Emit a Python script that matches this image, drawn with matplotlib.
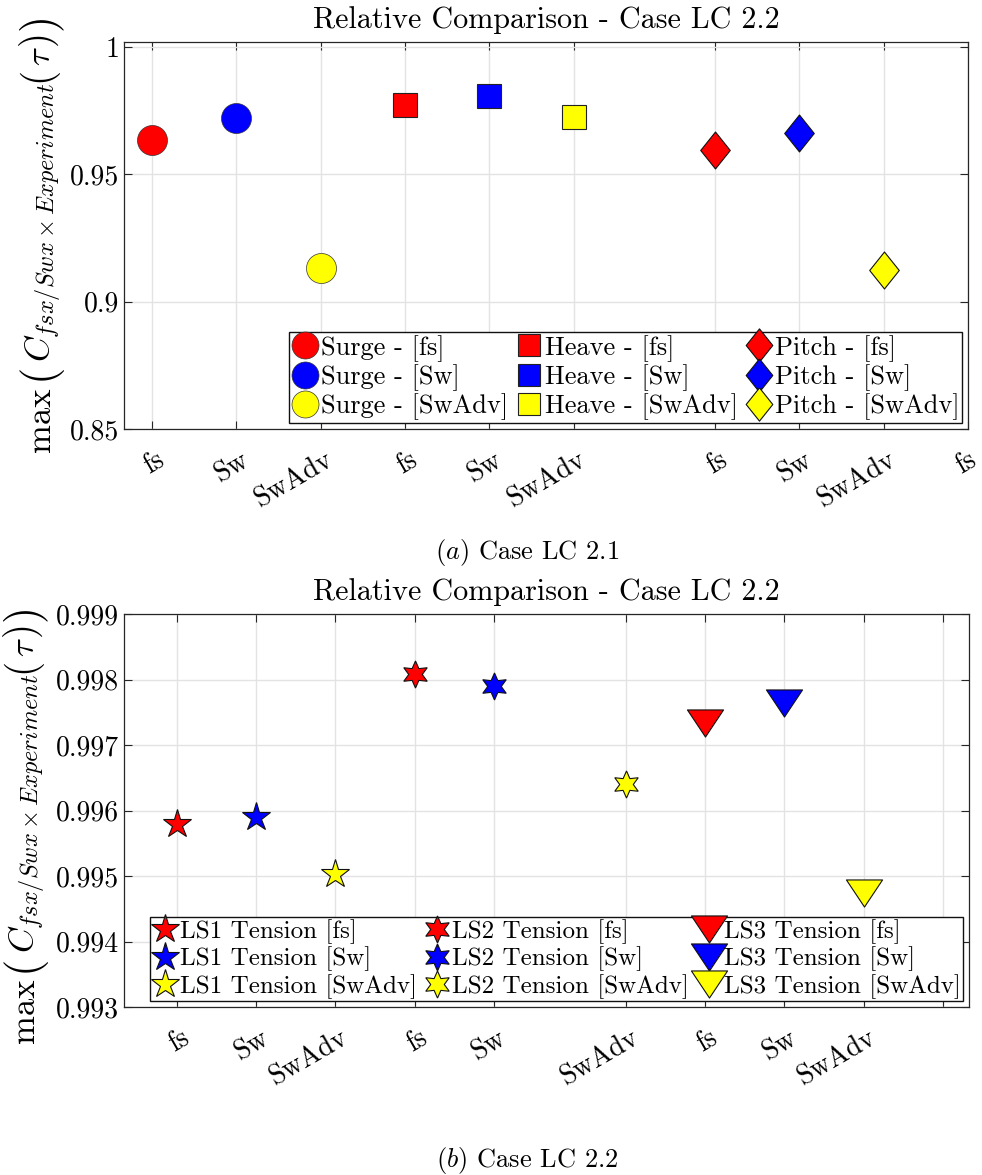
import numpy as np
import matplotlib
matplotlib.use('Agg')
import matplotlib.pyplot as plt
from matplotlib.path import Path
from matplotlib.transforms import IdentityTransform, ScaledTranslation

plt.rcParams['font.family'] = 'serif'
plt.rcParams['font.serif'] = ['cmr10']
plt.rcParams['mathtext.fontset'] = 'cm'
plt.rcParams['axes.unicode_minus'] = False
plt.rcParams['axes.formatter.use_mathtext'] = True

# ---- data: case LC 2.1 (motions) ----
pos_top = [1, 2, 3, 4, 5, 6, 7.67, 8.67, 9.67, 10.67]
labels_top = ['fs', 'Sw', 'SwAdv', 'fs', 'Sw', 'SwAdv', 'fs', 'Sw', 'SwAdv', 'fs']
surge = [0.9636, 0.9722, 0.9133]
heave = [0.9774, 0.9809, 0.9726]
pitch = [0.9594, 0.9662, 0.9123]
x_surge = [1, 2, 3]
x_heave = [4, 5, 6]
x_pitch = [7.67, 8.67, 9.67]

# ---- data: case LC 2.2 (line tensions) ----
pos_bot = [1, 2, 3, 4, 5, 6.67, 7.67, 8.67, 9.67, 10.67]
labels_bot = ['fs', 'Sw', 'SwAdv', 'fs', 'Sw', 'SwAdv', 'fs', 'Sw', 'SwAdv', '']
ls1 = [0.99580, 0.99590, 0.99503]
ls2 = [0.99809, 0.99790, 0.99641]
ls3 = [0.99733, 0.99764, 0.99474]
x_ls1 = [1, 2, 3]
x_ls2 = [4, 5, 6.67]
x_ls3 = [7.67, 8.67, 9.67]

variants = ['fs', 'Sw', 'SwAdv']
colors = ['#ff0000', '#0000ff', '#ffff00']

# marker shapes like MATLAB
diamond = Path([(0, 1), (0.8, 0), (0, -1), (-0.8, 0), (0, 1)],
               [Path.MOVETO, Path.LINETO, Path.LINETO, Path.LINETO, Path.CLOSEPOLY])
tri_down = Path([(-1, 0.75), (1, 0.75), (0, -0.75), (-1, 0.75)],
                [Path.MOVETO, Path.LINETO, Path.LINETO, Path.CLOSEPOLY])
hexagram = (6, 1, 0)

W, H = 982, 1175
fig = plt.figure(figsize=(W / 100, H / 100), dpi=100)


def px_axes(l, t, r, b):
    return fig.add_axes([l / W, 1 - b / H, (r - l) / W, (b - t) / H])


def style(ax):
    ax.grid(True, color='#e3e3e3', linewidth=1.0)
    ax.set_axisbelow(True)
    ax.tick_params(direction='in', top=True, right=True, length=6, width=0.8,
                   labelsize=20, color='#262626')
    for s in ax.spines.values():
        s.set_color('#262626')
        s.set_linewidth(0.9)


def xlabels(ax, pos, labs):
    ax.set_xticks(pos)
    ax.tick_params(axis='x', pad=13)
    ax.set_xticklabels(labs, rotation=30, ha='right', rotation_mode='anchor', fontsize=20)
    tl = ax.get_xticklabels()
    for k, t in enumerate(tl):
        dx = 4 if k < len(tl) - 1 else 0
        t.set_transform(t.get_transform() + ScaledTranslation(dx / 100, 0, fig.dpi_scale_trans))


def stacked_ylabel(x_base, y_top_px, pieces):
    # builds the rotated label piece by piece (big parentheses like the LaTeX original)
    r = fig.canvas.get_renderer()
    y = H - y_top_px
    for s, fs, gap, dx in pieces:
        y += gap
        t = fig.text(x_base + dx, y, s, rotation=90, rotation_mode='anchor', ha='left',
                     va='baseline', fontsize=fs, transform=IdentityTransform())
        bb = t.get_window_extent(r)
        y = bb.y1


ylab_pieces = [('max', 25, 0, 0),
               ('(', 32, 7, 0),
               (r'$C_{fsx/Swx\times Experiment}$', 25, 1, 0),
               ('(', 28, 1, -3),
               (r'$\tau$', 25, 1, 0),
               (')', 28, 1, -3),
               (')', 32, 0, 0)]

# ---------------- top axes ----------------
ax1 = px_axes(124, 42, 968, 429)
style(ax1)
for i in range(3):
    ax1.plot(x_surge[i], surge[i], 'o', ms=21.6, mfc=colors[i], mec='#333333', mew=0.5,
             linestyle='none', label='Surge - [%s]' % variants[i])
for i in range(3):
    ax1.plot(x_heave[i], heave[i], 's', ms=17.3, mfc=colors[i], mec='#222222', mew=0.8,
             linestyle='none', label='Heave - [%s]' % variants[i])
for i in range(3):
    ax1.plot(x_pitch[i], pitch[i], marker=diamond, ms=26.6, mfc=colors[i], mec='#111111',
             mew=0.8, linestyle='none', label='Pitch - [%s]' % variants[i])
ax1.set_xlim(0.67, 10.67)
ax1.set_ylim(0.85, 1.002)
ax1.set_yticks([0.85, 0.9, 0.95, 1.0])
ax1.set_yticklabels(['0.85', '0.9', '0.95', '1'])
xlabels(ax1, pos_top, labels_top)
ax1.set_title('Relative Comparison - Case LC 2.2', fontsize=21.7, pad=10)
ax1.legend(ncol=3, loc='lower right', bbox_to_anchor=(0.993, 0.0155), fontsize=19,
           frameon=True, fancybox=False, edgecolor='#111111', framealpha=1,
           handlelength=1.0, handletextpad=0.1, columnspacing=0.3, labelspacing=0.1,
           borderpad=0.1, borderaxespad=0, markerscale=0.9)

# ---------------- bottom axes ----------------
ax2 = px_axes(124, 614, 969, 1007)
style(ax2)
for i in range(3):
    ax2.plot(x_ls1[i], ls1[i], '*', ms=21, mfc=colors[i], mec='#111111', mew=0.8,
             linestyle='none', label='LS1 Tension [%s]' % variants[i])
for i in range(3):
    ax2.plot(x_ls2[i], ls2[i], marker=hexagram, ms=19.5, mfc=colors[i], mec='#111111',
             mew=0.8, linestyle='none', label='LS2 Tension [%s]' % variants[i])
for i in range(3):
    ax2.plot(x_ls3[i], ls3[i], marker=tri_down, ms=26, mfc=colors[i], mec='#111111',
             mew=0.8, linestyle='none', label='LS3 Tension [%s]' % variants[i])
ax2.set_xlim(0.33, 11)
ax2.set_ylim(0.993, 0.999)
ax2.set_yticks([0.993, 0.994, 0.995, 0.996, 0.997, 0.998, 0.999])
ax2.set_yticklabels(['0.993', '0.994', '0.995', '0.996', '0.997', '0.998', '0.999'])
xlabels(ax2, pos_bot, labels_bot)
ax2.set_title('Relative Comparison - Case LC 2.2', fontsize=21.7, pad=10)
ax2.legend(ncol=3, loc='lower right', bbox_to_anchor=(0.993, 0.015), fontsize=18,
           frameon=True, fancybox=False, edgecolor='#111111', framealpha=1,
           handlelength=1.0, handletextpad=0.1, columnspacing=0.3, labelspacing=0.1,
           borderpad=0.1, borderaxespad=0)

# y labels and captions
stacked_ylabel(50, 452, ylab_pieces)
stacked_ylabel(34, 1043, ylab_pieces)
fig.text(527 / W, 1 - 552 / H, r'$\mathit{(a)}$ Case LC 2.1', ha='center', va='center',
         fontsize=19)
fig.text(527 / W, 1 - 1160 / H, r'$\mathit{(b)}$ Case LC 2.2', ha='center', va='center',
         fontsize=19)

fig.savefig('out.png', dpi=100)
